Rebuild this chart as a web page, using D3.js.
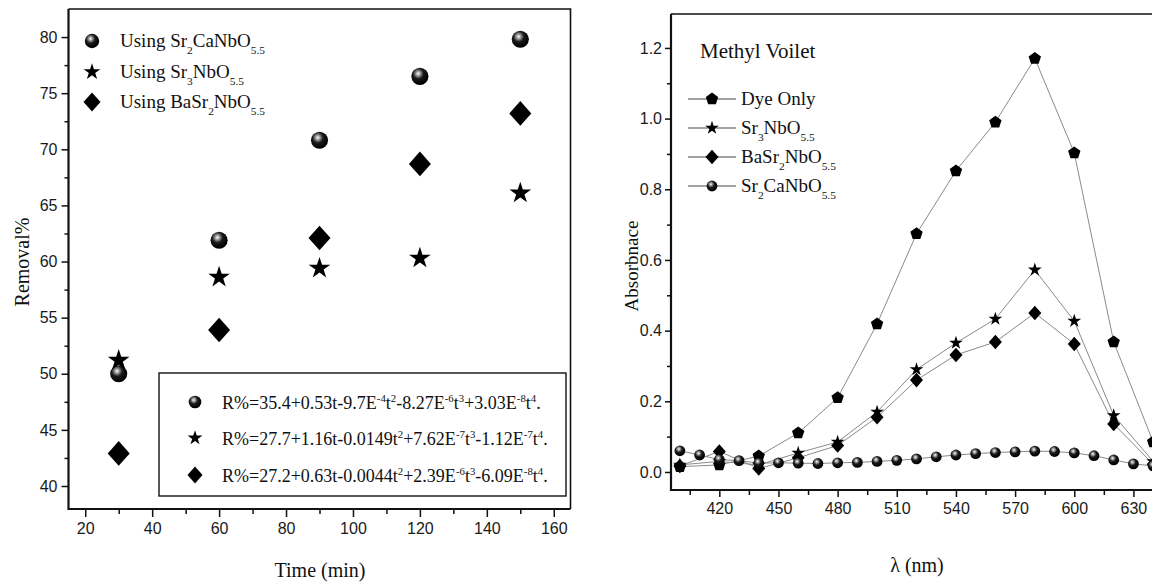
<!DOCTYPE html>
<meta charset="utf-8">
<style>
body { margin: 0; background: #fff; }
.tick text { font-family: "Liberation Sans", Arial, sans-serif; font-size: 16px; fill: #1a1a1a; }
.tick line { stroke: #111; stroke-width: 1.5px; }
.serif { font-family: "Liberation Serif", "Times New Roman", serif; fill: #111; }
.frame { fill: none; stroke: #111; }
</style>
<svg width="1152" height="584"></svg>
<script src="https://cdn.jsdelivr.net/npm/d3@7"></script>
<script>
// left panel: removal % vs time
var timeMin = [30, 60, 90, 120, 150];
var removalSrCa = [50.0, 61.9, 70.8, 76.5, 79.8];
var removalSr3 = [51.2, 58.6, 59.4, 60.3, 66.1];
var removalBaSr = [42.9, 53.9, 62.1, 68.7, 73.2];
var timeTicks = [20, 40, 60, 80, 100, 120, 140, 160];
var removalTicks = [40, 45, 50, 55, 60, 65, 70, 75, 80];

// right panel: absorbance spectra
var wl20 = [400, 420, 440, 460, 480, 500, 520, 540, 560, 580, 600, 620, 640];
var dyeOnly = [0.015, 0.02, 0.045, 0.11, 0.21, 0.419, 0.674, 0.852, 0.99, 1.17, 0.903, 0.368, 0.085];
var absSr3 = [0.02, 0.03, 0.02, 0.054, 0.085, 0.17, 0.29, 0.365, 0.433, 0.572, 0.427, 0.16, 0.03];
var absBaSr = [0.017, 0.058, 0.01, 0.04, 0.075, 0.155, 0.26, 0.331, 0.368, 0.45, 0.362, 0.136, 0.022];
var wl10 = [400, 410, 420, 430, 440, 450, 460, 470, 480, 490, 500, 510, 520, 530, 540, 550, 560, 570, 580, 590, 600, 610, 620, 630, 640];
var absSrCa = [0.06, 0.048, 0.035, 0.032, 0.025, 0.026, 0.025, 0.024, 0.026, 0.027, 0.03, 0.033, 0.037, 0.043, 0.048, 0.052, 0.055, 0.057, 0.059, 0.058, 0.054, 0.046, 0.034, 0.023, 0.017];
var wlTicks = [420, 450, 480, 510, 540, 570, 600, 630];
var absTicks = [0, 0.2, 0.4, 0.6, 0.8, 1.0, 1.2];

var svg = d3.select("svg");

var defs = svg.append("defs");
var grad = defs.append("radialGradient").attr("id", "ball")
    .attr("cx", "40%").attr("cy", "34%").attr("r", "62%");
grad.append("stop").attr("offset", "0").attr("stop-color", "#fff");
grad.append("stop").attr("offset", "0.18").attr("stop-color", "#aaa");
grad.append("stop").attr("offset", "0.5").attr("stop-color", "#1a1a1a");
grad.append("stop").attr("offset", "1").attr("stop-color", "#000");

// marker drawing
function diamondPath(w, h) { return "M0," + (-h) + "L" + w + ",0L0," + h + "L" + (-w) + ",0Z"; }
function pentagonPath(r) {
  var p = [];
  for (var i = 0; i < 5; i++) {
    var a = -Math.PI / 2 + i * 2 * Math.PI / 5;
    p.push([r * Math.cos(a), r * Math.sin(a)]);
  }
  return "M" + p.join("L") + "Z";
}
function marker(g, type, x, y, s) {
  if (type == "ball") {
    g.append("circle").attr("cx", x).attr("cy", y).attr("r", s * 0.45).attr("fill", "url(#ball)");
  } else if (type == "star") {
    g.append("path").attr("transform", "translate(" + x + "," + y + ")")
      .attr("d", d3.symbol(d3.symbolStar).size(s * s * 0.3)()).attr("fill", "#000");
  } else if (type == "diamond") {
    g.append("path").attr("transform", "translate(" + x + "," + y + ")")
      .attr("d", diamondPath(s * 0.5, s * 0.56)).attr("fill", "#000");
  } else if (type == "pentagon") {
    g.append("path").attr("transform", "translate(" + x + "," + y + ")")
      .attr("d", pentagonPath(s * 0.5)).attr("fill", "#000");
  }
}

// text with _{sub} and ^{sup}
function rich(t, str, fs) {
  var parts = str.split(/([_^]\{[^}]*\})/);
  var shift = 0;
  parts.forEach(function(p) {
    if (!p) return;
    var target = 0, txt = p, small = false;
    if (p[0] == "_" && p[1] == "{") { target = fs * 0.35; txt = p.slice(2, -1); small = true; }
    else if (p[0] == "^" && p[1] == "{") { target = -fs * 0.4; txt = p.slice(2, -1); small = true; }
    var ts = t.append("tspan").attr("dy", target - shift).text(txt);
    if (small) ts.attr("font-size", fs * 0.6);
    shift = target;
  });
}

// ---------- left panel ----------
var xL = d3.scaleLinear().domain([15, 165]).range([68.5, 570.5]);
var yL = d3.scaleLinear().domain([37.95, 82.5]).range([509, 9]);
var gL = svg.append("g");

gL.append("g").attr("transform", "translate(0,509)")
  .call(d3.axisBottom(xL).tickValues(timeTicks).tickSize(8).tickSizeOuter(0).tickPadding(6))
  .call(function(g) { g.select(".domain").remove(); });
gL.append("g").attr("transform", "translate(0,509)")
  .call(d3.axisBottom(xL).tickValues(d3.range(30, 160, 20)).tickSize(5).tickFormat(""))
  .call(function(g) { g.select(".domain").remove(); });
gL.append("g").attr("transform", "translate(68.5,0)")
  .call(d3.axisLeft(yL).tickValues(removalTicks).tickSize(7).tickSizeOuter(0).tickPadding(4))
  .call(function(g) { g.select(".domain").remove(); });
gL.append("g").attr("transform", "translate(68.5,0)")
  .call(d3.axisLeft(yL).tickValues(d3.range(42.5, 80, 5)).tickSize(4).tickFormat(""))
  .call(function(g) { g.select(".domain").remove(); });

gL.append("path").attr("class", "frame").attr("stroke-width", 1.6)
  .attr("d", "M68.5,9H570.5V509");
gL.append("path").attr("class", "frame").attr("stroke-width", 2.2)
  .attr("d", "M68.5,9V509H570.5");

var seriesL = [
  {vals: removalSrCa, type: "ball", label: "Using Sr_{2}CaNbO_{5.5}"},
  {vals: removalSr3, type: "star", label: "Using Sr_{3}NbO_{5.5}"},
  {vals: removalBaSr, type: "diamond", label: "Using BaSr_{2}NbO_{5.5}"}
];
seriesL.forEach(function(s) {
  s.vals.forEach(function(v, i) { marker(gL, s.type, xL(timeMin[i]), yL(v), s.type == "ball" ? 19 : 22); });
});

// top legend
seriesL.forEach(function(s, i) {
  var y = [41, 72, 102][i];
  marker(gL, s.type, 92, y, s.type == "ball" ? 16 : 17);
  rich(gL.append("text").attr("class", "serif").attr("x", 120).attr("y", y + 6).attr("font-size", 19), s.label, 19);
});

// formula box
gL.append("rect").attr("x", 159).attr("y", 373).attr("width", 407).attr("height", 123)
  .attr("fill", "#fff").attr("stroke", "#111").attr("stroke-width", 1.4);
var formulas = [
  "R%=35.4+0.53t-9.7E^{-4}t^{2}-8.27E^{-6}t^{3}+3.03E^{-8}t^{4}.",
  "R%=27.7+1.16t-0.0149t^{2}+7.62E^{-7}t^{3}-1.12E^{-7}t^{4}.",
  "R%=27.2+0.63t-0.0044t^{2}+2.39E^{-6}t^{3}-6.09E^{-8}t^{4}."
];
formulas.forEach(function(f, i) {
  var y = [402, 438, 475][i];
  marker(gL, seriesL[i].type, 195, y, seriesL[i].type == "ball" ? 14 : 15);
  rich(gL.append("text").attr("class", "serif").attr("x", 222).attr("y", y + 7).attr("font-size", 18), f, 18);
});

gL.append("text").attr("class", "serif").attr("font-size", 20).attr("text-anchor", "middle")
  .attr("transform", "translate(29,262) rotate(-90)").text("Removal%");
gL.append("text").attr("class", "serif").attr("font-size", 20).attr("text-anchor", "middle")
  .attr("x", 320).attr("y", 577).text("Time (min)");

// ---------- right panel ----------
var xR = d3.scaleLinear().domain([395.5, 645]).range([671, 1163]);
var yR = d3.scaleLinear().domain([-0.051, 1.296]).range([490, 14]);
var gR = svg.append("g");

gR.append("g").attr("transform", "translate(0,490)")
  .call(d3.axisBottom(xR).tickValues(wlTicks).tickSize(7).tickSizeOuter(0).tickPadding(6))
  .call(function(g) { g.select(".domain").remove(); });
gR.append("g").attr("transform", "translate(0,490)")
  .call(d3.axisBottom(xR).tickValues(d3.range(405, 646, 30)).tickSize(5).tickFormat(""))
  .call(function(g) { g.select(".domain").remove(); });
gR.append("g").attr("transform", "translate(671,0)")
  .call(d3.axisLeft(yR).tickValues(absTicks).tickSize(6).tickSizeOuter(0).tickPadding(3).tickFormat(d3.format(".1f")))
  .call(function(g) { g.select(".domain").remove(); });
gR.append("g").attr("transform", "translate(671,0)")
  .call(d3.axisLeft(yR).tickValues(d3.range(0.1, 1.2, 0.2)).tickSize(4).tickFormat(""))
  .call(function(g) { g.select(".domain").remove(); });

gR.append("path").attr("class", "frame").attr("stroke-width", 1.6).attr("d", "M671,14H1163");
gR.append("path").attr("class", "frame").attr("stroke-width", 2.2).attr("d", "M671,14V490H1163");

var line = d3.line();
var seriesR = [
  {x: wl20, y: dyeOnly, type: "pentagon", label: "Dye Only", size: 13},
  {x: wl20, y: absSr3, type: "star", label: "Sr_{3}NbO_{5.5}", size: 14},
  {x: wl20, y: absBaSr, type: "diamond", label: "BaSr_{2}NbO_{5.5}", size: 13},
  {x: wl10, y: absSrCa, type: "ball", label: "Sr_{2}CaNbO_{5.5}", size: 12}
];
seriesR.forEach(function(s) {
  gR.append("path").attr("fill", "none").attr("stroke", "#8a8a8a").attr("stroke-width", 1)
    .attr("d", line(s.x.map(function(w, i) { return [xR(w), yR(s.y[i])]; })));
});
seriesR.forEach(function(s) {
  s.x.forEach(function(w, i) { marker(gR, s.type, xR(w), yR(s.y[i]), s.size); });
});

gR.append("text").attr("class", "serif").attr("font-size", 21).attr("x", 700).attr("y", 58).text("Methyl Voilet");
seriesR.forEach(function(s, i) {
  var y = [99, 128, 157, 186][i];
  gR.append("line").attr("x1", 688).attr("x2", 736).attr("y1", y).attr("y2", y)
    .attr("stroke", "#444").attr("stroke-width", 1);
  marker(gR, s.type, 712, y, s.size);
  rich(gR.append("text").attr("class", "serif").attr("x", 741).attr("y", y + 6).attr("font-size", 19), s.label, 19);
});

gR.append("text").attr("class", "serif").attr("font-size", 19).attr("text-anchor", "middle")
  .attr("transform", "translate(638,266) rotate(-90)").text("Absorbnace");
gR.append("text").attr("class", "serif").attr("font-size", 20).attr("text-anchor", "middle")
  .attr("x", 917).attr("y", 572).text("λ (nm)");
</script>
